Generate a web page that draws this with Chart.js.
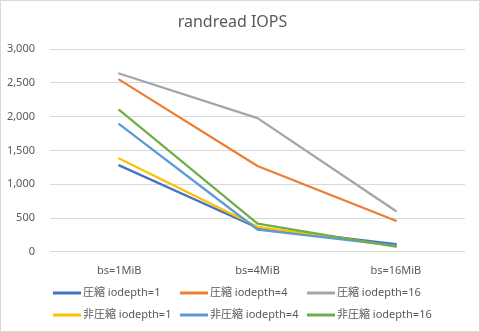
<!DOCTYPE html>
<html>
<head>
<meta charset="utf-8">
<script src="https://cdn.jsdelivr.net/npm/chart.js@4"></script>
<style>
  html, body { margin: 0; padding: 0; background: #fff; }
  #wrap { width: 480px; height: 332px; }
</style>
</head>
<body>
<div id="wrap"><canvas id="c" width="480" height="332"></canvas></div>
<script>
// block sizes on the x axis
const blockSizes = ['bs=1MiB', 'bs=4MiB', 'bs=16MiB'];

// IOPS per series
const compQd1 = [1280, 355, 115];
const compQd4 = [2550, 1270, 460];
const compQd16 = [2640, 1980, 605];
const rawQd1 = [1380, 370, 85];
const rawQd4 = [1890, 330, 90];
const rawQd16 = [2100, 418, 75];

const seriesNames = ['圧縮 iodepth=1', '圧縮 iodepth=4', '圧縮 iodepth=16',
                     '非圧縮 iodepth=1', '非圧縮 iodepth=4', '非圧縮 iodepth=16'];
const seriesValues = [compQd1, compQd4, compQd16, rawQd1, rawQd4, rawQd16];
const seriesColors = ['#4472C4', '#ED7D31', '#A5A5A5', '#FFC000', '#5B9BD5', '#70AD47'];

const FONT = '"Noto Sans", "Noto Sans CJK JP", sans-serif';
const TEXT = '#595959';

// outer frame + a legend laid out in a 3-column grid
const frameAndLegend = {
  id: 'frameAndLegend',
  beforeDraw(chart) {
    const ctx = chart.ctx;
    ctx.save();
    ctx.fillStyle = '#fff';
    ctx.fillRect(0, 0, chart.width, chart.height);
    ctx.restore();
  },
  afterDraw(chart) {
    const ctx = chart.ctx;
    ctx.save();
    ctx.strokeStyle = '#d9d9d9';
    ctx.lineWidth = 1;
    ctx.strokeRect(0.5, 0.5, chart.width - 1, chart.height - 1);

    const colX = [53, 180, 307];
    const rowY = [293, 315];
    ctx.font = '11px ' + FONT;
    ctx.textBaseline = 'middle';
    chart.data.datasets.forEach((ds, i) => {
      const x = colX[i % 3];
      const y = rowY[Math.floor(i / 3)];
      ctx.strokeStyle = ds.borderColor;
      ctx.lineWidth = 3;
      ctx.beginPath();
      ctx.moveTo(x, y);
      ctx.lineTo(x + 28, y);
      ctx.stroke();
      ctx.fillStyle = TEXT;
      ctx.fillText(ds.label, x + 30, y);
    });
    ctx.restore();
  }
};

new Chart(document.getElementById('c'), {
  type: 'line',
  data: {
    labels: blockSizes,
    datasets: seriesValues.map((vals, i) => ({
      label: seriesNames[i],
      data: vals,
      borderColor: seriesColors[i],
      backgroundColor: seriesColors[i],
      borderWidth: 2.25,
      pointRadius: 0,
      borderCapStyle: 'round',
      borderJoinStyle: 'round',
      order: 6 - i
    }))
  },
  options: {
    responsive: false,
    animation: false,
    layout: { padding: { left: 0, right: 15, top: 0, bottom: 43 } },
    plugins: {
      legend: { display: false },
      tooltip: { enabled: false },
      title: {
        display: true,
        text: 'randread IOPS',
        color: TEXT,
        font: { family: FONT, size: 16, weight: 'normal' },
        padding: { top: 13, bottom: 17 }
      }
    },
    scales: {
      x: {
        offset: true,
        grid: { display: false, drawTicks: false },
        border: { display: false },
        ticks: { color: TEXT, font: { family: FONT, size: 11 }, padding: 12 }
      },
      y: {
        min: 0,
        max: 3000,
        afterFit(scale) { scale.width = 50; },
        grid: { color: '#d9d9d9', drawTicks: false },
        border: { display: false },
        ticks: {
          stepSize: 500,
          color: TEXT,
          padding: 15,
          font: { family: FONT, size: 11 },
          callback: v => v.toLocaleString('en-US')
        }
      }
    }
  },
  plugins: [frameAndLegend]
});
</script>
</body>
</html>
